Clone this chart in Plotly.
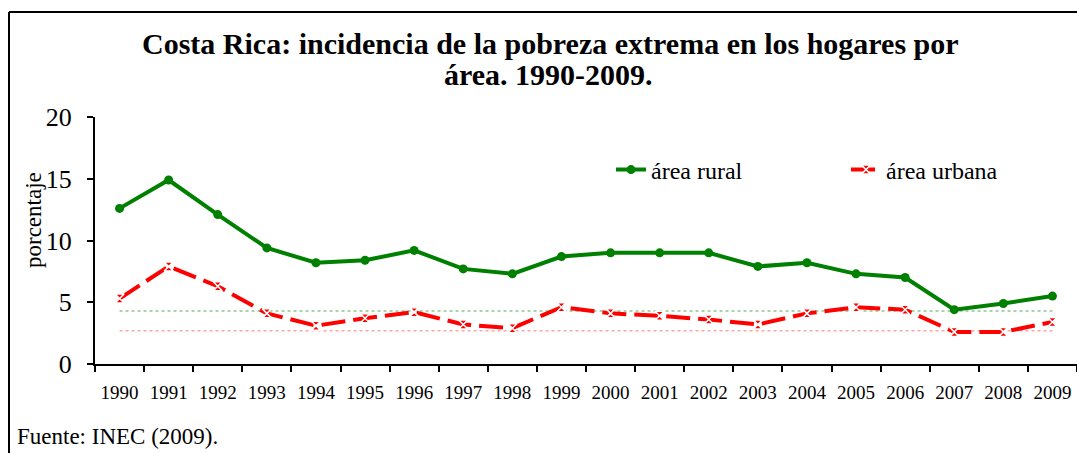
import plotly.graph_objects as go

years = [str(y) for y in range(1990, 2010)]
rural = [12.6, 14.9, 12.1, 9.4, 8.2, 8.4, 9.2, 7.7, 7.3, 8.7, 9.0, 9.0, 9.0, 7.9, 8.2, 7.3, 7.0, 4.4, 4.9, 5.5]
urbana = [5.3, 7.9, 6.3, 4.1, 3.1, 3.7, 4.2, 3.2, 2.9, 4.6, 4.1, 3.9, 3.6, 3.2, 4.1, 4.6, 4.4, 2.6, 2.6, 3.4]
rural_ref = [4.3] * len(years)
urbana_ref = [2.7] * len(years)
y_ticks = [0, 5, 10, 15, 20]

W, H = 1077, 453
L, R, T = 95, 0, 117
B = H - 364
pw, ph = W - L - R, H - T - B


def px_x(p):
    return (p - L) / pw


def px_y(p):
    return (H - B - p) / ph


SERIF = "Liberation Serif, Times New Roman, serif"

fig = go.Figure()
fig.add_trace(go.Scatter(x=years, y=rural_ref, mode="lines", showlegend=False,
                         line=dict(color="rgba(0,128,0,0.45)", width=1.5, dash="dot"),
                         hoverinfo="skip"))
fig.add_trace(go.Scatter(x=years, y=urbana_ref, mode="lines", showlegend=False,
                         line=dict(color="rgba(255,0,0,0.35)", width=1.5, dash="dot"),
                         hoverinfo="skip"))
fig.add_trace(go.Scatter(x=years, y=rural, mode="lines+markers", name="área rural",
                         legend="legend", cliponaxis=False,
                         line=dict(color="#008000", width=4),
                         marker=dict(symbol="circle", size=9, color="#008000")))
fig.add_trace(go.Scatter(x=years, y=urbana, mode="lines+markers", name="área urbana",
                         legend="legend2", cliponaxis=False,
                         line=dict(color="#FF0000", width=4, dash="24px,8px"),
                         marker=dict(symbol="hourglass", size=9, color="#FF0000",
                                     line=dict(color="white", width=1.5))))

leg_common = dict(orientation="h", yanchor="middle", xanchor="left",
                  font=dict(size=24, family=SERIF), bgcolor="rgba(0,0,0,0)",
                  borderwidth=0)

fig.update_layout(
    width=W, height=H,
    margin=dict(l=L, r=R, t=T, b=B, pad=0, autoexpand=False),
    paper_bgcolor="white", plot_bgcolor="white",
    font=dict(family=SERIF, color="black"),
    showlegend=True,
    legend=dict(x=px_x(611), y=px_y(170), **leg_common),
    legend2=dict(x=px_x(846), y=px_y(170), **leg_common),
    xaxis=dict(type="category", range=[-0.5, 19.5], showline=True, linecolor="black",
               linewidth=2, ticks="outside", tickson="boundaries", ticklen=6, tickwidth=2,
               tickcolor="black", showgrid=False, zeroline=False, tickangle=0,
               automargin=False,
               tickfont=dict(size=19, family=SERIF), ticklabelstandoff=10),
    yaxis=dict(range=[0, 20], tickvals=y_ticks, showline=True, linecolor="black", linewidth=2,
               ticks="outside", ticklen=6, tickwidth=2, tickcolor="black", showgrid=False,
               zeroline=False, automargin=False,
               tickfont=dict(size=26, family=SERIF), ticklabelstandoff=10),
)

fig.add_annotation(text="<b>Costa Rica: incidencia de la pobreza extrema en los hogares por</b>",
                   xref="paper", yref="paper", x=px_x(550), y=px_y(43), xanchor="center",
                   yanchor="middle", showarrow=False, font=dict(size=30, family=SERIF))
fig.add_annotation(text="<b>área. 1990-2009.</b>",
                   xref="paper", yref="paper", x=px_x(548), y=px_y(75), xanchor="center",
                   yanchor="middle", showarrow=False, font=dict(size=30, family=SERIF))
fig.add_annotation(text="porcentaje", textangle=-90, xref="paper", yref="paper",
                   x=px_x(33), y=px_y(220), xanchor="center", yanchor="middle",
                   showarrow=False, font=dict(size=23, family=SERIF))
fig.add_annotation(text="Fuente: INEC (2009).", xref="paper", yref="paper",
                   x=px_x(15), y=px_y(436), xanchor="left", yanchor="middle",
                   showarrow=False, font=dict(size=23, family=SERIF))

# frame
fig.add_shape(type="line", xref="paper", yref="paper", x0=px_x(9), x1=px_x(9),
              y0=px_y(12), y1=px_y(460), line=dict(color="black", width=2))
fig.add_shape(type="line", xref="paper", yref="paper", x0=px_x(9), x1=px_x(1085),
              y0=px_y(12), y1=px_y(12), line=dict(color="black", width=2))

page_css = ("document.body.style.margin='0';document.body.style.padding='0';"
            "document.body.style.overflow='hidden';"
            "document.documentElement.style.overflow='hidden';")
fig.write_html("out.html", post_script=page_css, config={"displayModeBar": False})
